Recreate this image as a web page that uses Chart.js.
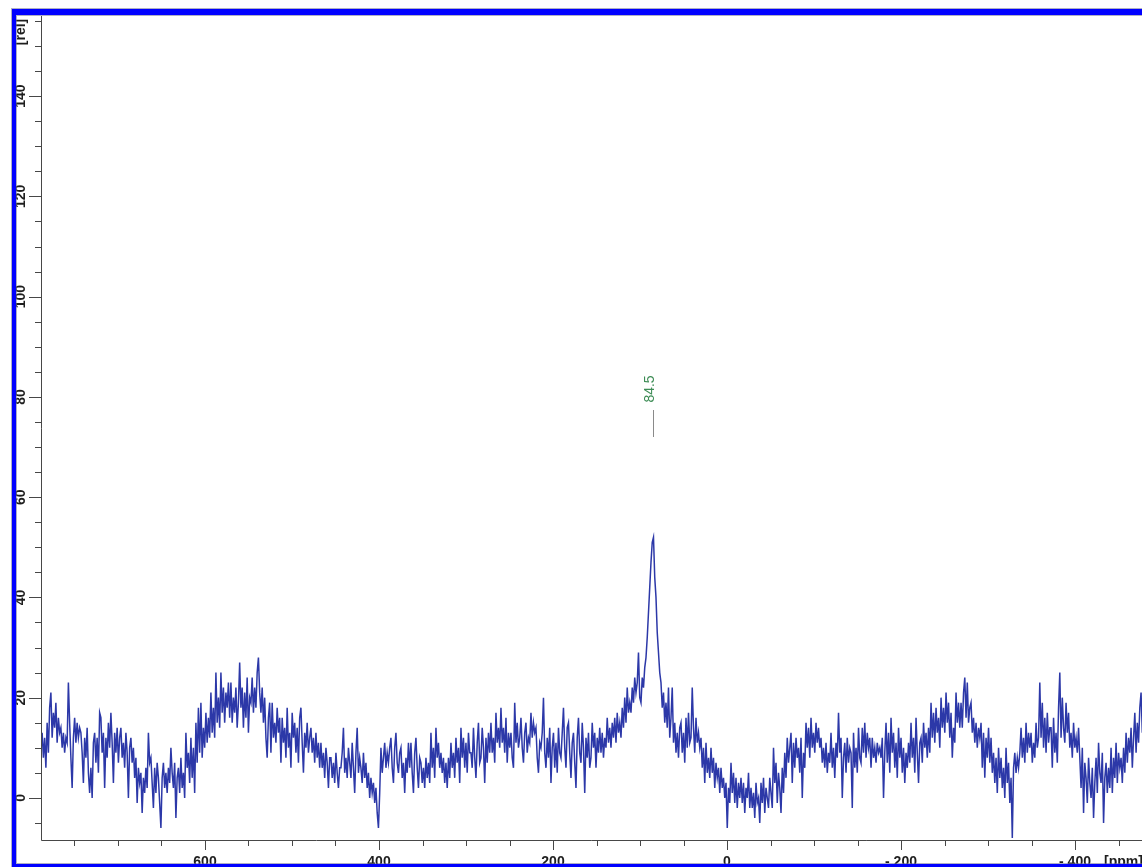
<!DOCTYPE html>
<html>
<head>
<meta charset="utf-8">
<title>Spectrum</title>
<script src="https://cdn.jsdelivr.net/npm/chart.js@4/dist/chart.umd.min.js"></script>
<style>
  html, body { margin: 0; padding: 0; background: #fff; overflow: hidden; width: 1142px; height: 867px; }
  #wrap { position: absolute; left: 0; top: 0; width: 1142px; height: 867px; }
  #frame {
    position: absolute; left: 12px; top: 9px; width: 1300px; height: 861px;
    box-sizing: border-box;
    border-left: 4px solid #0000ff; border-top: 6px solid #0000ff; border-bottom: 6px solid #0000ff;
    box-shadow: 0 0 0 1px rgba(110,110,150,0.55), inset 0 0 0 1px rgba(110,110,150,0.55);
    pointer-events: none;
  }
</style>
</head>
<body>
<div id="wrap"><canvas id="spectrum" width="1142" height="867"></canvas></div>
<div id="frame"></div>
<script>
// Acquisition grid: chemical shift of the first point and the spacing between points
const ppmOffset = 788.63;
const ppmSpacing = 1.437;

// Intensities [rel], one per point, from high to low ppm (eight points per row group)
const intensity = [
  10,13,8,12,6,15,9,18,  21,12,17,14,19,11,16,13,  14,10,13,9,12,11,23,15,  8,2,12,16,11,15,12,14,
  13,9,3,12,8,14,5,1,  6,0,11,13,7,12,5,17,  16,9,13,2,12,8,15,10,  17,11,3,13,9,14,7,12,
  14,8,11,6,13,9,0,10,  12,7,10,4,8,-1,6,3,  5,-3,4,1,6,2,13,7,  8,3,-2,6,1,7,4,-1,
  -6,4,7,2,5,1,6,3,  10,5,2,7,-4,4,6,1,  8,2,5,0,13,6,9,3,  12,4,10,1,15,7,18,9,
  19,8,14,10,17,11,16,12,  21,13,18,12,25,15,20,14,  25,17,22,15,21,18,23,16,  23,15,20,17,22,14,19,27,
  18,22,14,21,16,24,13,20,  19,24,17,22,18,25,28,21,  17,22,15,20,12,8,16,19,  9,19,12,15,11,18,13,16,
  7,16,11,14,8,18,10,13,  6,17,12,15,9,14,7,16,  18,11,5,13,10,15,9,12,  14,9,12,7,13,8,11,6,
  11,6,9,4,10,7,2,8,  8,4,7,3,9,5,2,6,  6,9,14,5,8,4,10,7,  4,11,6,1,9,14,5,8,
  6,3,9,4,7,2,5,0,  4,1,3,-1,2,-3,-6,1,  10,5,8,11,6,9,7,10,  12,6,3,10,13,7,5,9,
  10,4,7,1,8,5,11,6,  11,5,1,9,12,6,2,8,  7,3,6,2,8,4,7,3,  13,6,10,4,14,8,11,6,
  9,5,8,3,7,2,8,4,  11,6,9,4,12,7,10,3,  14,8,12,6,11,5,13,9,  9,6,14,8,4,11,15,7,
  8,14,10,3,12,7,13,9,  15,9,12,7,17,11,14,10,  18,11,14,9,16,7,13,10,  13,8,6,19,11,15,10,12,
  16,10,7,13,15,9,12,11,  17,12,15,13,14,8,5,11,  10,13,20,9,6,12,8,14,  3,10,13,6,11,5,14,9,
  8,13,18,10,6,14,15,9,  4,11,13,7,2,12,16,9,  7,15,10,1,12,8,13,6,  8,15,10,13,6,12,9,14,
  9,13,8,12,10,16,11,14,  10,15,12,16,11,17,13,15,  12,18,14,20,15,22,17,19,  17,22,19,24,21,23,29,20,
  19,24,22,26,28,32,37,42,  47,51,52,44,40,33,29,25,  23,18,21,15,19,14,22,12,  16,22,11,15,9,13,8,14,
  15,9,13,7,16,10,17,11,  12,22,14,9,16,11,13,10,  12,6,10,3,11,5,8,4,  10,5,8,2,7,4,6,1,
  6,2,4,0,3,-6,2,-1,  7,1,5,-1,4,-2,3,0,  4,-1,3,-3,2,0,5,-2,  2,-2,1,-4,3,-1,0,-5,
  3,-1,4,-3,2,0,-2,4,  1,-2,10,3,7,-1,5,2,  -3,6,1,9,4,12,7,10,  13,3,11,6,12,8,10,5,
  12,0,9,6,15,10,14,8,  16,10,13,9,15,11,14,10,  12,7,10,6,11,5,9,7,  13,6,10,4,11,8,17,9,
  12,0,8,11,5,12,7,10,  9,-2,13,6,10,5,14,8,  7,14,9,15,8,13,10,12,  6,12,8,10,7,11,9,10,
  8,12,0,9,15,7,13,5,  16,9,13,6,11,4,14,8,  12,5,10,3,9,6,11,7,  15,8,12,5,16,9,3,11,
  12,7,15,10,13,8,14,9,  19,12,17,11,18,13,16,10,  20,14,18,13,21,15,19,12,  17,8,14,11,21,15,19,14,
  19,14,21,24,16,23,15,18,  19,13,16,11,15,10,14,12,  15,6,13,4,12,8,14,7,  12,5,9,3,8,1,10,4,
  8,2,6,0,10,3,7,-1,  4,-8,6,9,5,8,6,9,  14,8,12,7,15,9,13,10,  13,7,11,8,15,10,12,23,
  12,19,10,16,9,17,11,14,  14,6,16,9,13,7,18,25,  12,20,14,11,19,13,17,10,  13,8,15,10,12,9,14,8,
  2,10,-3,7,4,-1,8,3,  0,6,-4,3,8,1,11,5,  3,9,-5,4,7,1,6,2,  10,1,8,4,11,3,9,6,
  8,3,10,5,13,7,12,9,  14,6,12,17,9,15,11,18,  21,13,16,20
];

// Axis labels
const xTickLabels = [600, 400, 200, 0, -200, -400];
const yTickLabels = [0, 20, 40, 60, 80, 100, 120, 140];
const xUnit = '[ppm]';
const yUnit = '[rel]';

// Picked peaks (ppm)
const peakPicks = [84.5];

const points = intensity.map((v, i) => ({ x: +(ppmOffset - i * ppmSpacing).toFixed(3), y: v }));

const AXIS_COLOR = '#474747';
const TEXT_COLOR = '#1e1e1e';
const LABEL_FONT = 'bold 14px "Liberation Sans", Arial, sans-serif';

// Draws the axis lines, major/minor ticks, tick labels and peak picks
const spectrumAxes = {
  id: 'spectrumAxes',
  afterDatasetsDraw(chart) {
    const { ctx, chartArea: a, scales: { x, y } } = chart;
    ctx.save();

    // axis lines
    ctx.strokeStyle = AXIS_COLOR;
    ctx.lineWidth = 1;
    ctx.beginPath();
    ctx.moveTo(a.left + 0.5, a.top);
    ctx.lineTo(a.left + 0.5, a.bottom + 0.5);
    ctx.lineTo(a.right, a.bottom + 0.5);
    ctx.stroke();

    // x ticks, every 50 ppm, longer on labelled values
    ctx.beginPath();
    for (let v = Math.ceil(x.min / 50) * 50; v <= x.max; v += 50) {
      const px = Math.round(x.getPixelForValue(v)) + 0.5;
      const major = xTickLabels.includes(v);
      ctx.moveTo(px, a.bottom + 1);
      ctx.lineTo(px, a.bottom + (major ? 10 : 6));
    }
    // y ticks, every 5, longer on labelled values
    for (let v = Math.ceil(y.min / 5) * 5; v <= y.max; v += 5) {
      const py = Math.round(y.getPixelForValue(v)) + 0.5;
      const major = yTickLabels.includes(v);
      ctx.moveTo(a.left, py);
      ctx.lineTo(a.left - (major ? 12 : 6), py);
    }
    ctx.stroke();

    // x labels
    ctx.fillStyle = TEXT_COLOR;
    ctx.font = LABEL_FONT;
    ctx.textAlign = 'center';
    ctx.textBaseline = 'top';
    xTickLabels.forEach(v => {
      const txt = v < 0 ? '- ' + Math.abs(v) : String(v);
      ctx.fillText(txt, x.getPixelForValue(v), a.bottom + 15);
    });
    ctx.textAlign = 'left';
    ctx.fillText(xUnit, 1104, a.bottom + 15);

    // y labels, rotated
    const drawRotated = (txt, cx, cy) => {
      ctx.save();
      ctx.translate(cx, cy);
      ctx.rotate(-Math.PI / 2);
      ctx.textAlign = 'center';
      ctx.textBaseline = 'middle';
      ctx.fillText(txt, 0, 0);
      ctx.restore();
    };
    yTickLabels.forEach(v => drawRotated(String(v), 21, y.getPixelForValue(v)));
    drawRotated(yUnit, 21, 32);

    // peak picks: short marker line with the shift written above it
    peakPicks.forEach(p => {
      const px = Math.round(x.getPixelForValue(p)) + 0.5;
      ctx.strokeStyle = '#8a8a8a';
      ctx.beginPath();
      ctx.moveTo(px, 410);
      ctx.lineTo(px, 437);
      ctx.stroke();
      ctx.fillStyle = '#3d8c55';
      ctx.font = '14px "Liberation Sans", Arial, sans-serif';
      drawRotated(p.toFixed(1), px - 3, 389);
    });

    ctx.restore();
  }
};

new Chart(document.getElementById('spectrum'), {
  type: 'line',
  data: {
    datasets: [{
      data: points,
      borderColor: 'rgb(44,56,168)',
      borderWidth: 1.5,
      pointRadius: 0,
      fill: false,
      tension: 0
    }]
  },
  options: {
    responsive: false,
    animation: false,
    events: [],
    layout: { padding: { left: 41, top: 16, right: 0, bottom: 27 } },
    plugins: { legend: { display: false }, tooltip: { enabled: false } },
    scales: {
      x: { type: 'linear', reverse: true, min: -477.0, max: 788.5, display: false },
      y: { type: 'linear', min: -8.4, max: 156, display: false }
    }
  },
  plugins: [spectrumAxes]
});
</script>
</body>
</html>
